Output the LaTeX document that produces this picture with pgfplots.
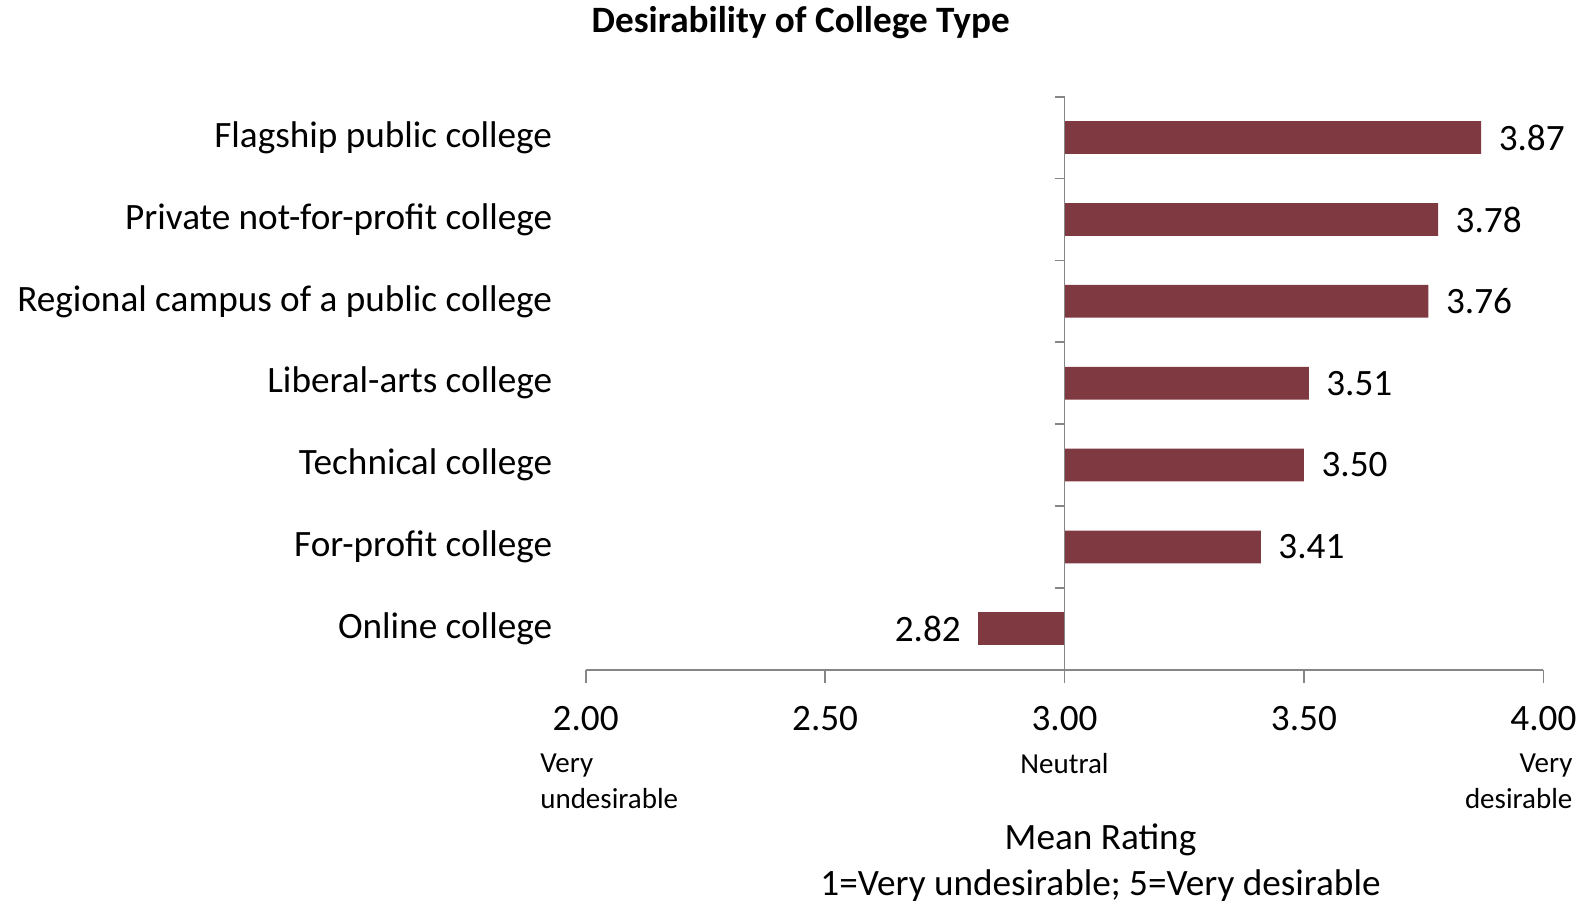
\documentclass[border=0pt]{standalone}
\usepackage{pgfplots}
\pgfplotsset{compat=1.18}
\usepackage{pgfplotstable}
\usepackage{fontspec}
\setmainfont{Carlito}

\definecolor{barred}{RGB}{127,57,65}
\definecolor{axisgray}{RGB}{134,134,134}

% pos 0 = bottom row (Online college), v = mean rating
\pgfplotstableread{
pos v
0 2.82
1 3.41
2 3.50
3 3.51
4 3.76
5 3.78
6 3.87
}\ratings

\begin{document}
\begin{tikzpicture}[font=\fontsize{18.6}{22.3}\selectfont]
\begin{axis}[
  scale only axis,
  width=478.85pt, height=286.5pt,
  xmin=-1, xmax=1, ymin=-0.5, ymax=6.5,
  axis x line*=bottom, axis y line*=left,
  y axis line style={draw=none},
  x axis line style={axisgray, line width=0.9pt},
  xtick={-1,-0.5,0,0.5,1},
  xticklabels={2.00,2.50,3.00,3.50,4.00},
  xtick style={axisgray, line width=0.9pt},
  tick align=outside, major tick length=6.5pt,
  xticklabel style={anchor=base, inner sep=0pt, yshift=-24.1pt},
  ytick={0,...,6},
  yticklabels={Online college, For-profit college, Technical college,
    Liberal-arts college, Regional campus of a public college,
    Private not-for-profit college, Flagship public college},
  ytick style={draw=none},
  yticklabel style={anchor=east, inner sep=0pt, xshift=-10.1pt},
  xbar, bar width=0.4, bar shift=0pt,
  /pgf/number format/assume math mode=true,
  nodes near coords={\pgfmathprintnumber[fixed, fixed zerofill, precision=2]{\pgfplotspointmeta}},
  every node near coord/.append style={inner xsep=8.6pt, inner ysep=0pt, text=black},
  clip=false,
]
% ratings above neutral (3.00): bars to the right
\addplot[fill=barred, draw=none, point meta=explicit,
  restrict x to domain=0:1,
  every node near coord/.append style={anchor=west}]
  table[x expr=\thisrow{v}-3, y=pos, meta=v] {\ratings};
% ratings below neutral: bars to the left
\addplot[fill=barred, draw=none, point meta=explicit,
  restrict x to domain=-1:0,
  every node near coord/.append style={anchor=east}]
  table[x expr=\thisrow{v}-3, y=pos, meta=v] {\ratings};
\draw[axisgray, line width=0.9pt] (axis cs:0,-0.5) -- (axis cs:0,6.5);
\pgfplotsinvokeforeach{-0.5,0.5,1.5,2.5,3.5,4.5,5.5,6.5}{
  \draw[axisgray, line width=0.9pt] (axis cs:0,#1) -- ++(-5pt,0pt);
}
\coordinate (O) at (rel axis cs:0,0);
\end{axis}
\node[font=\fontsize{18.6}{22.3}\selectfont\bfseries] at ([shift={(107.5pt,323.4pt)}]O) {Desirability of College Type};
\node[anchor=west, align=left, inner sep=0pt, font=\fontsize{14.5}{17.8}\selectfont]
  at ([shift={(-22.9pt,-55.9pt)}]O) {Very\\undesirable};
\node[anchor=center, inner sep=0pt, font=\fontsize{14.5}{17.8}\selectfont]
  at ([shift={(239.4pt,-47pt)}]O) {Neutral};
\node[anchor=east, align=right, inner sep=0pt, font=\fontsize{14.5}{17.8}\selectfont]
  at ([shift={(493.55pt,-55.9pt)}]O) {Very\\desirable};
\node[anchor=center, align=center, inner sep=0pt, font=\fontsize{18.6}{22.9}\selectfont]
  at ([shift={(257.4pt,-96.45pt)}]O) {Mean Rating\\1=Very undesirable; 5=Very desirable};
\path (O) ++(-292.85pt,-117pt) rectangle ++(794.5pt,451.5pt);
\end{tikzpicture}
\end{document}
